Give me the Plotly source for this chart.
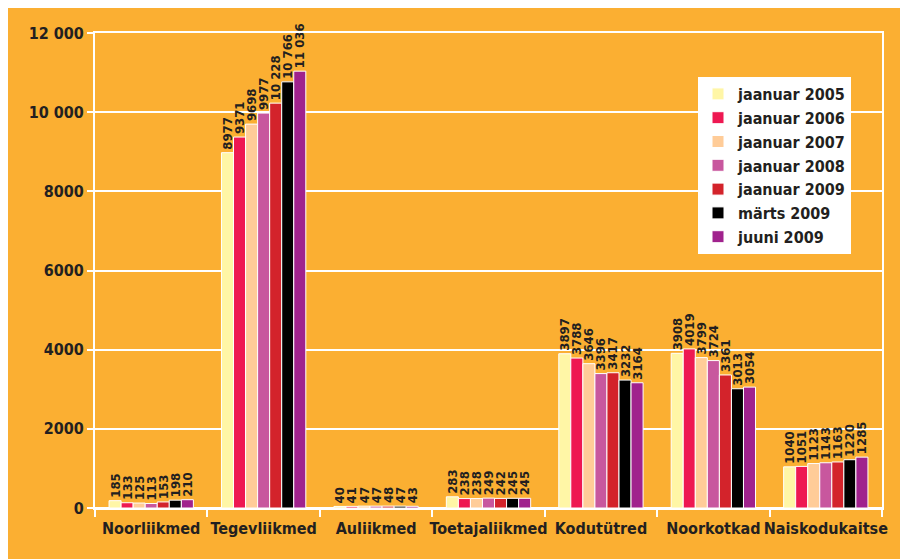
import plotly.graph_objects as go

categories = ["Noorliikmed", "Tegevliikmed", "Auliikmed", "Toetajaliikmed",
              "Kodutütred", "Noorkotkad", "Naiskodukaitse"]
series_names = ["jaanuar 2005", "jaanuar 2006", "jaanuar 2007", "jaanuar 2008",
                "jaanuar 2009", "märts 2009", "juuni 2009"]
jaanuar_2005 = [185, 8977, 40, 283, 3897, 3908, 1040]
jaanuar_2006 = [133, 9371, 41, 238, 3788, 4019, 1051]
jaanuar_2007 = [125, 9698, 47, 238, 3646, 3799, 1123]
jaanuar_2008 = [113, 9977, 47, 249, 3396, 3724, 1143]
jaanuar_2009 = [153, 10228, 48, 242, 3417, 3361, 1163]
marts_2009 = [198, 10766, 47, 245, 3232, 3013, 1220]
juuni_2009 = [210, 11036, 43, 245, 3164, 3054, 1285]
series_values = [jaanuar_2005, jaanuar_2006, jaanuar_2007, jaanuar_2008,
                 jaanuar_2009, marts_2009, juuni_2009]
colors = ["#FFF6A6", "#EE1852", "#FFCC98", "#C8579E", "#D3232B", "#000000", "#A0228D"]
tick_vals = [0, 2000, 4000, 6000, 8000, 10000, 12000]
tick_text = ["0", "2000", "4000", "6000", "8000", "10 000", "12 000"]

ORANGE = "#FBAF32"
DARK = "#231F20"
FONT = "DejaVu Sans Condensed, Liberation Sans Narrow, sans-serif"


def fmt(v):
    if v >= 10000:
        return f"{v:,}".replace(",", " ")
    return str(v)


fig = go.Figure()
for name, vals, col in zip(series_names, series_values, colors):
    fig.add_trace(go.Bar(
        x=categories, y=vals, name=name,
        marker=dict(color=col, line=dict(color="white", width=1)),
        text=[fmt(v) for v in vals], textposition="outside", textangle=-90,
        textfont=dict(family=FONT, size=13, color=DARK, weight="bold"),
        constraintext="none", cliponaxis=False,
    ))

# figure sits at page offset (8, 8) because of the default body margin
OFF = 8
W, H = 908, 559
L, R, T, B = 95 - OFF, W - (882 - OFF), 33 - OFF, H - (508 - OFF)
pw, ph = W - L - R, H - T - B


def px(x):
    return (x - OFF - L) / pw


def py(y):
    return (H - B - (y - OFF)) / ph


fig.update_layout(
    width=W, height=H,
    margin=dict(l=L, r=R, t=T, b=B, pad=0, autoexpand=False),
    paper_bgcolor=ORANGE, plot_bgcolor=ORANGE,
    barmode="group", bargap=0.25, bargroupgap=0,
    font=dict(family=FONT, color=DARK, weight="bold"),
    legend=dict(
        x=px(698), y=py(77), xanchor="left", yanchor="top",
        bgcolor="white", borderwidth=0,
        font=dict(family=FONT, size=16, color=DARK, weight="bold"),
        itemclick=False, tracegroupgap=0,
    ),
    xaxis=dict(
        showline=True, linecolor="white", linewidth=2, mirror=True,
        ticks="outside", tickson="boundaries", tickcolor="white", ticklen=7, tickwidth=2,
        tickangle=0, automargin=False, ticklabelstandoff=5,
        tickfont=dict(family=FONT, size=16, color=DARK, weight="bold"),
        showgrid=False,
    ),
    yaxis=dict(
        range=[0, 12000], tickvals=tick_vals, ticktext=tick_text,
        showline=True, linecolor="white", linewidth=2, mirror=True,
        ticks="outside", tickcolor="white", ticklen=6, tickwidth=2,
        automargin=False,
        showgrid=True, gridcolor="white", gridwidth=2,
        zeroline=True, zerolinecolor="white", zerolinewidth=2,
        tickfont=dict(family=FONT, size=16, color=DARK, weight="bold"),
    ),
)

fig.write_html("out.html")
